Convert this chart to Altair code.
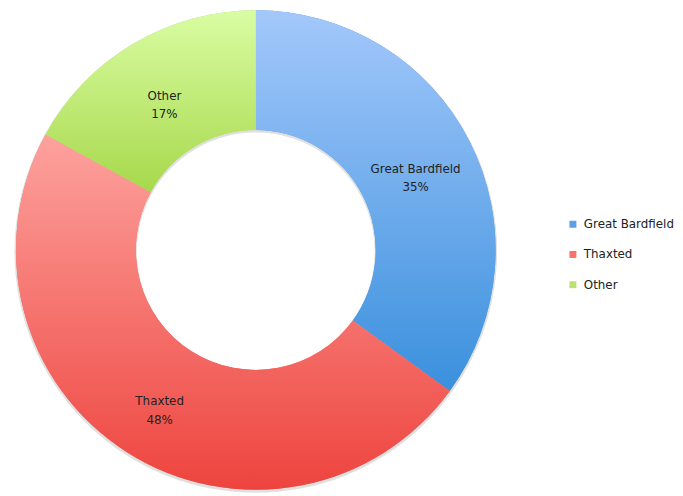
import altair as alt
import pandas as pd

categories = ["Great Bardfield", "Thaxted", "Other"]
values = [35, 48, 17]
order = [0, 1, 2]
legend_colors = ["#5d9ee9", "#f8716c", "#b9e272"]
grad_top = ["#a3c8fb", "#fda29e", "#d9fda3"]
grad_bottom = ["#3a90dd", "#ee443e", "#a7d84b"]

df = pd.DataFrame({"category": categories, "value": values, "order": order})

FONT = "DejaVu Sans"
INNER, OUTER = 121, 242

base = alt.Chart(df).transform_window(
    end="sum(value)", sort=[alt.SortField("order")], frame=[None, 0]
).transform_calculate(
    start="datum.end - datum.value",
    mid="datum.end - datum.value / 2",
    label="datum.category + '\\n' + datum.value + '%'",
)

tscale = alt.Scale(domain=[0, 100])

shadow = base.mark_arc(innerRadius=INNER - 1, outerRadius=OUTER + 1.5, color="#000", opacity=0.12, yOffset=1.5).encode(
    theta=alt.Theta("start:Q", scale=tscale),
    theta2="end:Q",
)

solid = base.mark_arc(innerRadius=INNER, outerRadius=OUTER).encode(
    theta=alt.Theta("start:Q", scale=tscale),
    theta2="end:Q",
    color=alt.Color(
        "category:N",
        scale=alt.Scale(domain=categories, range=legend_colors),
        sort=categories,
        legend=alt.Legend(
            title=None,
            orient="none",
            legendX=564,
            legendY=210,
            symbolType="square",
            symbolSize=49,
            symbolStrokeWidth=0,
            labelFont=FONT,
            labelFontSize=12,
            labelColor="#222",
            rowPadding=18.5,
            labelOffset=5,
        ),
    ),
)

layers = [shadow, solid]
for c, t, b in zip(categories, grad_top, grad_bottom):
    grad = alt.LinearGradient(
        gradient="linear",
        stops=[alt.GradientStop(offset=0, color=t), alt.GradientStop(offset=1, color=b)],
        x1=0, x2=0, y1=0, y2=1,
    )
    layers.append(
        base.transform_filter(alt.datum.category == c)
        .mark_arc(innerRadius=INNER, outerRadius=OUTER, fill=grad)
        .encode(theta=alt.Theta("start:Q", scale=tscale), theta2="end:Q")
    )

text = base.mark_text(radius=181, lineBreak="\n", font=FONT, fontSize=12, color="#222", lineHeight=19).encode(
    theta=alt.Theta("mid:Q", scale=tscale),
    text="label:N",
)
layers.append(text)

chart = alt.layer(*layers).properties(width=500, height=484, padding=0).configure_view(stroke=None)

chart.save("out.html", embed_options={"renderer": "svg", "actions": False})
